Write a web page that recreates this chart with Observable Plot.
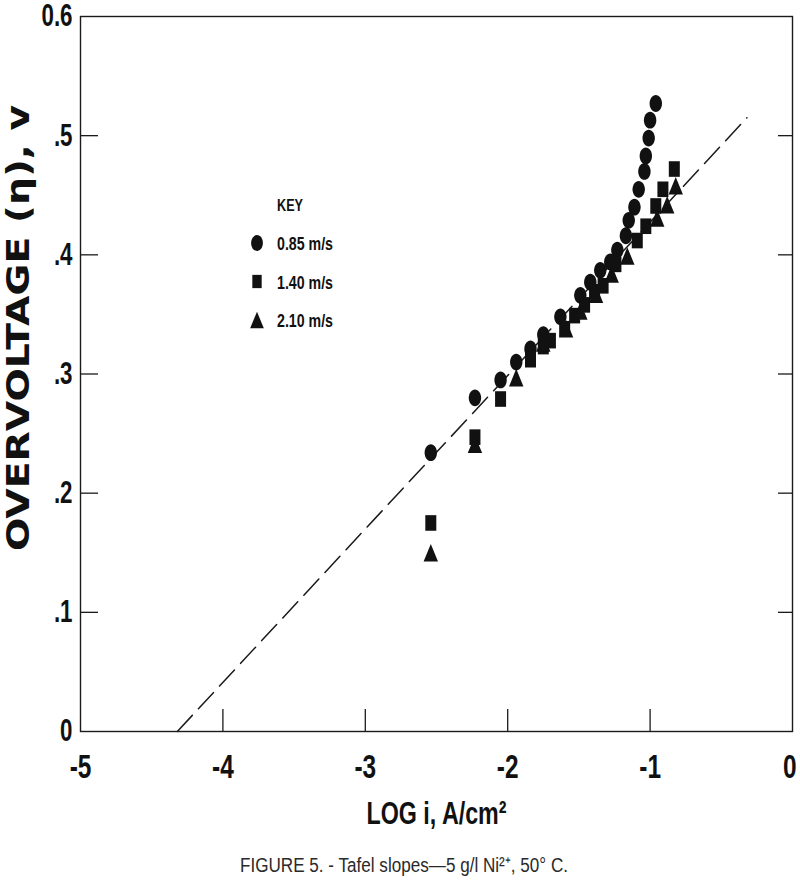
<!DOCTYPE html>
<html>
<head>
<meta charset="utf-8">
<script src="https://cdn.jsdelivr.net/npm/d3@7"></script>
<script src="https://cdn.jsdelivr.net/npm/@observablehq/plot@0.6"></script>
<style>
  html, body { margin: 0; padding: 0; background: #fff; }
  #wrap { position: relative; width: 800px; height: 891px; }
  #legend { position: absolute; left: 0; top: 0; }
  #caption { position: absolute; left: 0; top: 845px; }
</style>
</head>
<body>
<div id="wrap"></div>
<script>
// ---- data ----
const xTicks = [-5, -4, -3, -2, -1, 0];
const xTickLabels = ["-5", "-4", "-3", "-2", "-1", "0"];
const yTicks = [0, 0.1, 0.2, 0.3, 0.4, 0.5, 0.6];
const yTickLabels = ["0", ".1", ".2", ".3", ".4", ".5", "0.6"];
const innerYTicks = [0.1, 0.2, 0.3, 0.4, 0.5];
const innerXTicks = [-4, -3, -2, -1];

const series = ["0.85 m/s", "1.40 m/s", "2.10 m/s"];

const logI_085 = [-2.54, -2.23, -2.05, -1.94, -1.84, -1.75, -1.63, -1.49, -1.42, -1.35, -1.28, -1.23, -1.17, -1.15, -1.11, -1.08, -1.04, -1.03, -1.01, -1.00, -0.96];
const eta_085  = [0.234, 0.280, 0.295, 0.310, 0.321, 0.333, 0.348, 0.366, 0.377, 0.387, 0.394, 0.404, 0.416, 0.429, 0.440, 0.455, 0.470, 0.483, 0.498, 0.513, 0.527];

const logI_140 = [-2.54, -2.23, -2.05, -1.84, -1.75, -1.70, -1.60, -1.53, -1.46, -1.39, -1.33, -1.24, -1.09, -1.03, -0.96, -0.91, -0.83];
const eta_140  = [0.175, 0.247, 0.279, 0.312, 0.323, 0.328, 0.338, 0.349, 0.358, 0.369, 0.374, 0.392, 0.412, 0.424, 0.441, 0.455, 0.472];

const logI_210 = [-2.54, -2.23, -1.94, -1.75, -1.59, -1.49, -1.38, -1.27, -1.16, -0.95, -0.88, -0.82];
const eta_210  = [0.150, 0.241, 0.297, 0.326, 0.338, 0.353, 0.367, 0.384, 0.399, 0.431, 0.442, 0.458];

const tafelX = [-4.32, -0.32];
const tafelY = [0, 0.515];

const xLabel = "LOG i, A/cm\u00B2";
const yLabel = "OVERVOLTAGE (\u03B7), v";
const keyTitle = "KEY";
const captionText = "FIGURE 5. - Tafel slopes\u20145 g/l Ni\u00B2\u207A, 50\u00B0 C.";

// ---- build tables ----
const points = [
  ...logI_085.map((x, i) => ({x, y: eta_085[i], s: series[0]})),
  ...logI_140.map((x, i) => ({x, y: eta_140[i], s: series[1]})),
  ...logI_210.map((x, i) => ({x, y: eta_210[i], s: series[2]}))
];
const line = tafelX.map((x, i) => ({x, y: tafelY[i]}));

// custom (slightly tall) symbols like the scanned markers
const R = 7;
const ellipseSym = {draw(ctx, size) {
  const k = Math.sqrt(size / Math.PI) / R, rx = 6.2 * k, ry = 8.4 * k, c = 0.5523;
  ctx.moveTo(rx, 0);
  ctx.bezierCurveTo(rx, ry * c, rx * c, ry, 0, ry);
  ctx.bezierCurveTo(-rx * c, ry, -rx, ry * c, -rx, 0);
  ctx.bezierCurveTo(-rx, -ry * c, -rx * c, -ry, 0, -ry);
  ctx.bezierCurveTo(rx * c, -ry, rx, -ry * c, rx, 0);
  ctx.closePath();
}};
const rectSym = {draw(ctx, size) {
  const k = Math.sqrt(size / Math.PI) / R, w = 5.5 * k, h = 7.8 * k;
  ctx.moveTo(-w, -h); ctx.lineTo(w, -h); ctx.lineTo(w, h); ctx.lineTo(-w, h); ctx.closePath();
}};
const triSym = {draw(ctx, size) {
  const k = Math.sqrt(size / Math.PI) / R, w = 7.2 * k, h = 8.8 * k;
  ctx.moveTo(0, -h); ctx.lineTo(w, h); ctx.lineTo(-w, h); ctx.closePath();
}};
const symbolOf = {[series[0]]: ellipseSym, [series[1]]: rectSym, [series[2]]: triSym};

const W = 800, H = 845, mL = 80, mR = 8, mT = 16, mB = H - 731;
const plotW = W - mL - mR, plotH = H - mT - mB;
const boldFont = '"Liberation Sans", Arial, sans-serif';

const chart = Plot.plot({
  width: W, height: H,
  marginLeft: mL, marginRight: mR, marginTop: mT, marginBottom: mB,
  x: {domain: [-5, 0], axis: null},
  y: {domain: [0, 0.6], axis: null},
  style: {background: "#fff", color: "#111", overflow: "visible"},
  marks: [
    Plot.frame({stroke: "#1a1a1a", strokeWidth: 1.4}),
    Plot.tickY(innerYTicks, {stroke: "#1a1a1a", strokeWidth: 1.3, insetRight: plotW - 18}),
    Plot.tickY(innerYTicks, {stroke: "#1a1a1a", strokeWidth: 1.3, insetLeft: plotW - 14}),
    Plot.tickX(innerXTicks, {stroke: "#1a1a1a", strokeWidth: 1.3, insetTop: plotH - 22}),
    Plot.axisX(xTicks, {
      anchor: "bottom", tickSize: 0, tickPadding: 23, label: null,
      tickFormat: d => xTickLabels[xTicks.indexOf(d)],
      fontSize: 33, fontWeight: "bold", fontFamily: boldFont
    }),
    Plot.axisY(yTicks, {
      anchor: "left", tickSize: 0, tickPadding: 8, label: null,
      tickFormat: d => yTickLabels[yTicks.indexOf(d)],
      fontSize: 31, fontWeight: "bold", fontFamily: boldFont
    }),
    Plot.line(line, {x: "x", y: "y", stroke: "#1a1a1a", strokeWidth: 1.5, strokeDasharray: "22,9"}),
    Plot.dot(points, {x: "x", y: "y", r: R, fill: "#111", stroke: "none",
      symbol: d => symbolOf[d.s]}),
    Plot.text([xLabel], {frameAnchor: "bottom", dy: 82, text: d => d, fontSize: 32,
      textAnchor: "middle", lineAnchor: "middle",
      fontWeight: "bold", fontFamily: boldFont, fill: "#111", className: "xlab"}),
    Plot.text([yLabel], {frameAnchor: "left", dx: -62, dy: -46, rotate: -90, text: d => d,
      textAnchor: "middle", lineAnchor: "middle",
      fontSize: 32, fontWeight: "bold", fontFamily: '"DejaVu Sans", sans-serif', fill: "#111", className: "ylab"})
  ]
});

const wrap = document.getElementById("wrap");
wrap.appendChild(chart);

// condense / stretch text to mimic the reference typefaces
function squeeze(sel, factor) {
  sel.each(function () {
    const L = this.getComputedTextLength();
    this.setAttribute("textLength", L * factor);
    this.setAttribute("lengthAdjust", "spacingAndGlyphs");
  });
}
function fitTo(sel, len) {
  sel.attr("textLength", len).attr("lengthAdjust", "spacingAndGlyphs");
}
const xtl = d3.select(chart).selectAll('g[aria-label="x-axis tick label"] text');
squeeze(xtl, 0.74);
// keep the last ("0") label inside the picture, as in the reference
xtl.filter(function () { return this.textContent === xTickLabels[xTickLabels.length - 1]; })
  .attr("text-anchor", "end").attr("dx", 4);
squeeze(d3.select(chart).selectAll('g[aria-label="y-axis tick label"] text'), 0.72);
fitTo(d3.select(chart).selectAll(".xlab text"), 140);
fitTo(d3.select(chart).selectAll(".ylab text"), 446);

// ---- key (legend) ----
const leg = d3.select(wrap).append("svg").attr("id", "legend").attr("width", 400).attr("height", 360);
const keyT = leg.append("text").attr("x", 277).attr("y", 211).text(keyTitle)
  .attr("font-family", boldFont).attr("font-weight", "bold").attr("font-size", 17).attr("fill", "#111");
fitTo(keyT, 26);
const legSyms = [ellipseSym, rectSym, triSym];
const legScale = [0.95, 0.85, 0.95];
series.forEach((s, i) => {
  const cy = 243 + i * 38.5;
  const p = d3.path();
  legSyms[i].draw(p, Math.PI * (R * legScale[i]) ** 2);
  leg.append("path").attr("d", p.toString()).attr("transform", `translate(257,${cy})`).attr("fill", "#111");
  const t = leg.append("text").attr("x", 277).attr("y", cy + 7).text(s)
    .attr("font-family", boldFont).attr("font-weight", "bold").attr("font-size", 18).attr("fill", "#111");
  fitTo(t, 56);
});

// ---- caption ----
const capSvg = d3.select(wrap).append("svg").attr("id", "caption").attr("width", 800).attr("height", 46);
const capT = capSvg.append("text").attr("x", 404).attr("y", 27).attr("text-anchor", "middle")
  .attr("font-family", boldFont).attr("font-size", 20).attr("fill", "#2a2a2a").text(captionText);
fitTo(capT, 328);
</script>
</body>
</html>
